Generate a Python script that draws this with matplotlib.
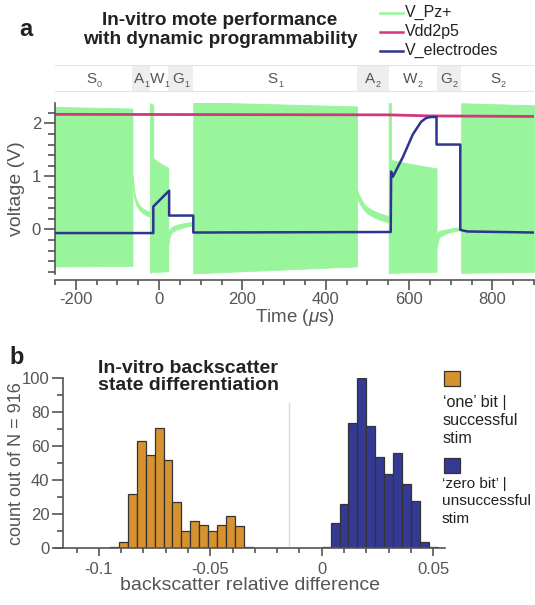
import numpy as np
import matplotlib
matplotlib.use("Agg")
import matplotlib.pyplot as plt
from matplotlib.ticker import MultipleLocator
from matplotlib.lines import Line2D
from matplotlib.patches import Rectangle

plt.rcParams['font.family'] = ['Liberation Sans', 'DejaVu Sans']
plt.rcParams['mathtext.fontset'] = 'custom'
plt.rcParams['mathtext.rm'] = 'Liberation Sans'
plt.rcParams['mathtext.it'] = 'Liberation Sans:italic'
plt.rcParams['axes.unicode_minus'] = False

# ---------------- Panel a data ----------------
state_edges = [-250, -64, -22, 22, 82, 475, 551, 666, 725, 900]
state_names = ['S', 'A', 'W', 'G', 'S', 'A', 'W', 'G', 'S']
state_subs = ['0', '1', '1', '1', '1', '2', '2', '2', '2']
state_shaded = [False, True, False, True, False, True, False, True, False]

# V_Pz+ envelope segments (time, upper, lower)
pz_s0_t = [-250, -64]
pz_s0_hi = [2.31, 2.28]
pz_s0_lo = [-0.70, -0.69]
pz_a1_t = [-64, -62, -60, -55, -48, -40, -30, -22]
pz_a1_hi = [1.00, 0.88, 0.72, 0.56, 0.46, 0.40, 0.35, 0.33]
pz_a1_lo = [0.88, 0.74, 0.60, 0.46, 0.37, 0.31, 0.26, 0.24]
pz_w1_t = [-22, -14, -14, 0, 22]
pz_w1_hi = [2.38, 2.35, 1.34, 1.26, 1.16]
pz_w1_lo = [-0.82, -0.80, -0.80, -0.80, -0.79]
pz_g1_t = [22, 25, 30, 40, 55, 70, 82]
pz_g1_hi = [-0.05, 0.00, 0.04, 0.08, 0.11, 0.13, 0.14]
pz_g1_lo = [-0.30, -0.15, -0.06, -0.01, 0.03, 0.06, 0.07]
pz_s1_t = [82, 475]
pz_s1_hi = [2.40, 2.32]
pz_s1_lo = [-0.83, -0.70]
pz_a2_t = [475, 480, 490, 500, 515, 530, 551]
pz_a2_hi = [0.75, 0.65, 0.50, 0.42, 0.35, 0.30, 0.25]
pz_a2_lo = [0.60, 0.51, 0.38, 0.30, 0.23, 0.18, 0.13]
pz_w2_t = [551, 557, 557, 600, 666]
pz_w2_hi = [2.40, 2.38, 1.31, 1.24, 1.15]
pz_w2_lo = [-0.83, -0.82, -0.82, -0.81, -0.80]
pz_g2_t = [666, 672, 690, 710, 725]
pz_g2_hi = [-0.08, -0.03, 0.00, 0.03, 0.04]
pz_g2_lo = [-0.35, -0.15, -0.07, -0.03, -0.01]
pz_s2_t = [725, 900]
pz_s2_hi = [2.38, 2.34]
pz_s2_lo = [-0.82, -0.80]

# Vdd2p5
vdd_t = [-250, 550, 650, 900]
vdd_v = [2.17, 2.16, 2.14, 2.13]

# V_electrodes
ve_t = [-250, -14, -14, 24, 24, 82, 82, 556, 557, 561, 585, 609, 629, 641, 652, 666, 666, 723, 723, 740, 900]
ve_v = [-0.07, -0.07, 0.43, 0.73, 0.26, 0.26, -0.06, -0.05, 1.09, 0.99, 1.36, 1.79, 2.03, 2.10, 2.12, 2.12, 1.60, 1.60, -0.01, -0.04, -0.06]

# ---------------- Panel b data ----------------
bin_width = 0.004
one_start = -0.095
one_counts = [1, 4, 32, 63, 55, 71, 52, 27, 10, 16, 14, 10, 14, 19, 13, 1]
zero_start = 0.0
zero_counts = [1, 15, 26, 74, 100, 72, 54, 44, 56, 38, 28, 4, 1]
threshold = -0.0147

GREEN = '#98F59B'
PINK = '#D3367F'
BLUE = '#2E3490'
ORANGE = '#D5922E'
HBLUE = '#343A94'
GREY = '#555555'
DARK = '#222222'

W, H = 535, 605
fig = plt.figure(figsize=(W / 100, H / 100), dpi=100)

def fx(px):
    return px / W

def fy(py):
    return 1 - py / H

# ---------------- Panel a ----------------
axa = fig.add_axes([fx(55), fy(274.4), fx(534) - fx(55), fy(103.2) - fy(274.4)])
segs = [(pz_s0_t, pz_s0_hi, pz_s0_lo), (pz_a1_t, pz_a1_hi, pz_a1_lo),
        (pz_w1_t, pz_w1_hi, pz_w1_lo), (pz_g1_t, pz_g1_hi, pz_g1_lo),
        (pz_s1_t, pz_s1_hi, pz_s1_lo), (pz_a2_t, pz_a2_hi, pz_a2_lo),
        (pz_w2_t, pz_w2_hi, pz_w2_lo), (pz_g2_t, pz_g2_hi, pz_g2_lo),
        (pz_s2_t, pz_s2_hi, pz_s2_lo)]
for t, hi, lo in segs:
    axa.fill_between(t, lo, hi, color=GREEN, lw=0.6, edgecolor=GREEN, zorder=1)
axa.plot(vdd_t, vdd_v, color=PINK, lw=2.0, zorder=2)
axa.plot(ve_t, ve_v, color=BLUE, lw=1.8, zorder=3)

axa.set_xlim(-250, 900)
axa.set_ylim(-0.85, 2.38)
for s in ['top', 'right']:
    axa.spines[s].set_visible(False)
axa.spines['bottom'].set_position(('outward', 4))
for s in ['left', 'bottom']:
    axa.spines[s].set_color(GREY)
    axa.spines[s].set_linewidth(1.2)
axa.xaxis.set_major_locator(MultipleLocator(200))
axa.xaxis.set_minor_locator(MultipleLocator(50))
axa.set_yticks([0, 1, 2])
axa.yaxis.set_minor_locator(MultipleLocator(0.2))
axa.tick_params(axis='x', which='major', length=7, width=1.2, color=GREY, labelcolor=GREY, labelsize=12, pad=2)
axa.tick_params(axis='x', which='minor', length=3.5, width=1.2, color=GREY)
axa.tick_params(axis='y', which='major', length=8, width=1.2, color=GREY, labelcolor=GREY, labelsize=12, pad=2)
axa.tick_params(axis='y', which='minor', length=5, width=1.2, color=GREY)
axa.set_xlabel('Time ($\\mu$s)', fontsize=13.5, color=GREY, labelpad=0)
axa.set_ylabel('voltage (V)', fontsize=14, color=GREY)
axa.yaxis.set_label_coords((25 - 55) / (534 - 55), 0.5)

# state band
axs = fig.add_axes([fx(55), fy(92.3), fx(534) - fx(55), fy(65) - fy(92.3)])
axs.set_xlim(-250, 900)
axs.set_ylim(0, 1)
axs.axis('off')
for i, name in enumerate(state_names):
    x0, x1 = state_edges[i], state_edges[i + 1]
    if state_shaded[i]:
        axs.add_patch(Rectangle((x0, 0), x1 - x0, 1, facecolor='#EEEEEE', edgecolor='none'))
    xc = (x0 + x1) / 2
    main = axs.annotate(name, xy=(xc, 0.5), xytext=(-1.8, 0), textcoords='offset points',
                        ha='center', va='center', fontsize=11, color=GREY)
    axs.annotate(state_subs[i], xy=(1, 0), xycoords=main, xytext=(0.3, 1.0),
                 textcoords='offset points', ha='left', va='center', fontsize=6.5, color=GREY)
axs.axhline(1, color='#E4E4E4', lw=1.5)
axs.axhline(0, color='#E4E4E4', lw=1.5)

fig.text(fx(220), fy(30), 'In-vitro mote performance\nwith dynamic programmability',
         ha='center', va='center', fontsize=13.7, fontweight='bold', color=DARK, linespacing=1.1)
fig.text(fx(26), fy(30), 'a', ha='center', va='center', fontsize=17, fontweight='bold', color=DARK)

leg_items = [('V_Pz+', GREEN), ('Vdd2p5', PINK), ('V_electrodes', BLUE)]
for i, (lab, col) in enumerate(leg_items):
    yy = fy(12.7 + 19 * i)
    fig.add_artist(Line2D([fx(380), fx(403)], [yy, yy], color=col, lw=1.8))
    fig.text(fx(405), yy, lab, ha='left', va='center', fontsize=11.5, color=DARK)

# ---------------- Panel b ----------------
scale = 2228.0
axb = fig.add_axes([fx(55), fy(548.3), fx(445) - fx(55), fy(378.3) - fy(548.3)])
one_edges = one_start + bin_width * np.arange(len(one_counts))
zero_edges = zero_start + bin_width * np.arange(len(zero_counts))
axb.bar(one_edges, one_counts, width=bin_width, align='edge', color=ORANGE,
        edgecolor='#333333', linewidth=0.9, zorder=2)
axb.bar(zero_edges, zero_counts, width=bin_width, align='edge', color=HBLUE,
        edgecolor='#333333', linewidth=0.9, zorder=2)
axb.plot([threshold, threshold], [0, 85.5], color='#DDDDDD', lw=1.0, zorder=1)

axb.set_xlim((55 - 321.7) / scale, (445 - 321.7) / scale)
axb.set_ylim(0, 100)
for s in ['top', 'right']:
    axb.spines[s].set_visible(False)
axb.spines['left'].set_position(('data', (63.3 - 321.7) / scale))
for s in ['left', 'bottom']:
    axb.spines[s].set_color(GREY)
    axb.spines[s].set_linewidth(1.2)
axb.set_xticks([-0.1, -0.05, 0, 0.05])
axb.set_xticklabels(['-0.1', '-0.05', '0', '0.05'])
axb.xaxis.set_minor_locator(MultipleLocator(0.01))
axb.set_yticks([0, 20, 40, 60, 80, 100])
axb.yaxis.set_minor_locator(MultipleLocator(10))
axb.tick_params(axis='x', which='major', length=6, width=1.2, color=GREY, labelcolor=GREY, labelsize=12, pad=4)
axb.tick_params(axis='x', which='minor', length=3.5, width=1.2, color=GREY)
axb.tick_params(axis='y', which='major', length=8, width=1.2, color=GREY, labelcolor=GREY, labelsize=12, pad=2)
axb.tick_params(axis='y', which='minor', length=4, width=1.2, color=GREY)
axb.set_xlabel('backscatter relative difference', fontsize=14, color=GREY, labelpad=0)
axb.set_ylabel('count out of N = 916', fontsize=13, color=GREY)
axb.yaxis.set_label_coords((25 - 55) / (445 - 55), 0.5)

fig.text(fx(98), fy(377), 'In-vitro backscatter\nstate differentiation', ha='left', va='center',
         fontsize=14, fontweight='bold', color=DARK, linespacing=1.05)
fig.text(fx(17), fy(357), 'b', ha='center', va='center', fontsize=17, fontweight='bold', color=DARK)

# legend b
fig.add_artist(Rectangle((fx(444), fy(385.7)), fx(16), fy(371) - fy(385.7), transform=fig.transFigure,
                         facecolor=ORANGE, edgecolor='#333333', lw=0.9))
fig.text(fx(443), fy(395), '\u2018one\u2019 bit |\nsuccessful\nstim', ha='left', va='top', fontsize=11.6,
         color=DARK, linespacing=1.25)
fig.add_artist(Rectangle((fx(444), fy(473)), fx(16), fy(458) - fy(473), transform=fig.transFigure,
                         facecolor=HBLUE, edgecolor='#333333', lw=0.9))
fig.text(fx(442), fy(477), '\u2018zero bit\u2019 |\nunsuccessful\nstim', ha='left', va='top', fontsize=11.1,
         color=DARK, linespacing=1.3)

fig.savefig('out.png', dpi=100)
